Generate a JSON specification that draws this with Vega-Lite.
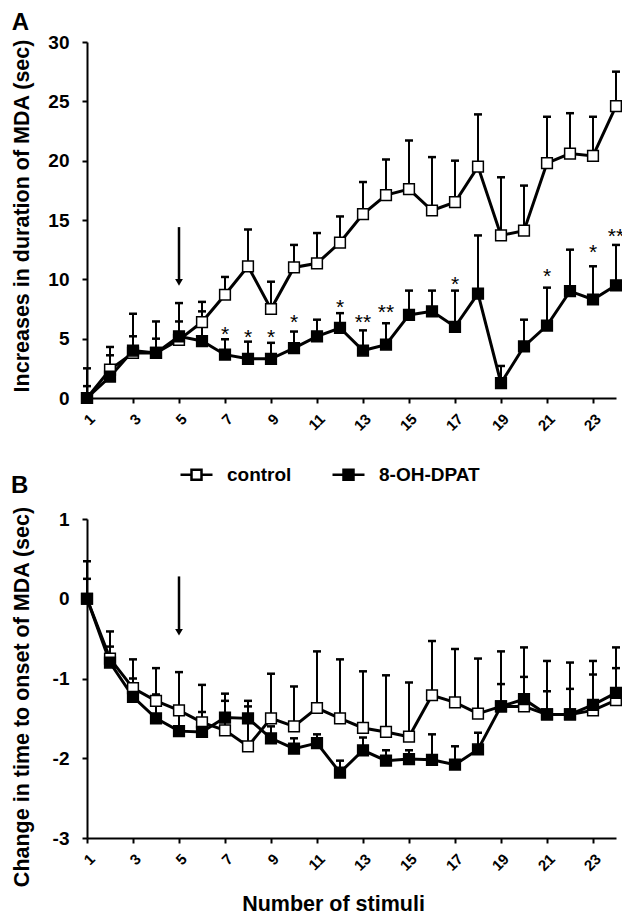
{
  "$schema": "https://vega.github.io/schema/vega-lite/v6.json",
  "padding": {"left": 11, "top": 11, "right": 0, "bottom": 0},
  "spacing": 39,
  "config": {
    "font": "Liberation Sans",
    "view": {"stroke": null},
    "axis": {
      "grid": false,
      "domainColor": "black",
      "domainWidth": 2,
      "tickColor": "black",
      "tickWidth": 2,
      "tickSize": 5,
      "labelFont": "Liberation Sans",
      "labelFontWeight": "bold",
      "labelColor": "black",
      "titleFont": "Liberation Sans",
      "titleFontWeight": "bold",
      "titleColor": "black",
      "labelOverlap": false,
      "labelFlush": false
    },
    "title": {"font": "Liberation Sans", "fontWeight": "bold", "fontSize": 24, "color": "black", "anchor": "start", "frame": "bounds"}
  },
  "datasets": {
    "dur": [
      {"stim": 1, "group": "control", "mean": 0, "upper": 2.5},
      {"stim": 2, "group": "control", "mean": 2.4, "upper": 4.3},
      {"stim": 3, "group": "control", "mean": 3.8, "upper": 7.1},
      {"stim": 4, "group": "control", "mean": 3.8, "upper": 6.45},
      {"stim": 5, "group": "control", "mean": 4.9, "upper": 8.0},
      {"stim": 6, "group": "control", "mean": 6.4, "upper": 8.1},
      {"stim": 7, "group": "control", "mean": 8.7, "upper": 10.2},
      {"stim": 8, "group": "control", "mean": 11.1, "upper": 14.2},
      {"stim": 9, "group": "control", "mean": 7.5, "upper": 9.8},
      {"stim": 10, "group": "control", "mean": 11.0, "upper": 12.9},
      {"stim": 11, "group": "control", "mean": 11.35, "upper": 13.9},
      {"stim": 12, "group": "control", "mean": 13.1, "upper": 15.3},
      {"stim": 13, "group": "control", "mean": 15.5, "upper": 18.2},
      {"stim": 14, "group": "control", "mean": 17.1, "upper": 20.1},
      {"stim": 15, "group": "control", "mean": 17.6, "upper": 21.7},
      {"stim": 16, "group": "control", "mean": 15.8, "upper": 20.3},
      {"stim": 17, "group": "control", "mean": 16.5, "upper": 20.0},
      {"stim": 18, "group": "control", "mean": 19.5, "upper": 23.9},
      {"stim": 19, "group": "control", "mean": 13.7, "upper": 18.6},
      {"stim": 20, "group": "control", "mean": 14.1, "upper": 17.9},
      {"stim": 21, "group": "control", "mean": 19.8, "upper": 23.7},
      {"stim": 22, "group": "control", "mean": 20.6, "upper": 24.0},
      {"stim": 23, "group": "control", "mean": 20.4, "upper": 23.7},
      {"stim": 24, "group": "control", "mean": 24.6, "upper": 27.5},
      {"stim": 1, "group": "8-OH-DPAT", "mean": 0, "upper": 1.0},
      {"stim": 2, "group": "8-OH-DPAT", "mean": 1.8, "upper": 3.6},
      {"stim": 3, "group": "8-OH-DPAT", "mean": 4.0, "upper": 5.2},
      {"stim": 4, "group": "8-OH-DPAT", "mean": 3.8, "upper": 5.0},
      {"stim": 5, "group": "8-OH-DPAT", "mean": 5.2, "upper": 6.45},
      {"stim": 6, "group": "8-OH-DPAT", "mean": 4.8, "upper": 7.3},
      {"stim": 7, "group": "8-OH-DPAT", "mean": 3.65, "upper": 4.95},
      {"stim": 8, "group": "8-OH-DPAT", "mean": 3.3, "upper": 4.75},
      {"stim": 9, "group": "8-OH-DPAT", "mean": 3.3, "upper": 4.65},
      {"stim": 10, "group": "8-OH-DPAT", "mean": 4.2, "upper": 5.6},
      {"stim": 11, "group": "8-OH-DPAT", "mean": 5.2, "upper": 6.6},
      {"stim": 12, "group": "8-OH-DPAT", "mean": 5.9, "upper": 7.15},
      {"stim": 13, "group": "8-OH-DPAT", "mean": 4.0, "upper": 5.7},
      {"stim": 14, "group": "8-OH-DPAT", "mean": 4.5, "upper": 6.3},
      {"stim": 15, "group": "8-OH-DPAT", "mean": 7.0, "upper": 9.05},
      {"stim": 16, "group": "8-OH-DPAT", "mean": 7.3, "upper": 9.05},
      {"stim": 17, "group": "8-OH-DPAT", "mean": 6.0, "upper": 9.05},
      {"stim": 18, "group": "8-OH-DPAT", "mean": 8.8, "upper": 13.7},
      {"stim": 19, "group": "8-OH-DPAT", "mean": 1.25, "upper": 2.7},
      {"stim": 20, "group": "8-OH-DPAT", "mean": 4.35, "upper": 6.6},
      {"stim": 21, "group": "8-OH-DPAT", "mean": 6.1, "upper": 9.3},
      {"stim": 22, "group": "8-OH-DPAT", "mean": 9.0, "upper": 12.5},
      {"stim": 23, "group": "8-OH-DPAT", "mean": 8.3, "upper": 11.1},
      {"stim": 24, "group": "8-OH-DPAT", "mean": 9.5, "upper": 12.9}
    ],
    "onset": [
      {"stim": 1, "group": "control", "mean": 0, "upper": 0.47},
      {"stim": 2, "group": "control", "mean": -0.75, "upper": -0.41},
      {"stim": 3, "group": "control", "mean": -1.12, "upper": -0.76},
      {"stim": 4, "group": "control", "mean": -1.28, "upper": -0.87},
      {"stim": 5, "group": "control", "mean": -1.4, "upper": -0.92},
      {"stim": 6, "group": "control", "mean": -1.55, "upper": -1.08},
      {"stim": 7, "group": "control", "mean": -1.65, "upper": -1.19},
      {"stim": 8, "group": "control", "mean": -1.85, "upper": -1.28},
      {"stim": 9, "group": "control", "mean": -1.5, "upper": -0.94},
      {"stim": 10, "group": "control", "mean": -1.6, "upper": -1.1},
      {"stim": 11, "group": "control", "mean": -1.37, "upper": -0.66},
      {"stim": 12, "group": "control", "mean": -1.5, "upper": -0.76},
      {"stim": 13, "group": "control", "mean": -1.62, "upper": -0.91},
      {"stim": 14, "group": "control", "mean": -1.67, "upper": -0.96},
      {"stim": 15, "group": "control", "mean": -1.73, "upper": -1.05},
      {"stim": 16, "group": "control", "mean": -1.21, "upper": -0.53},
      {"stim": 17, "group": "control", "mean": -1.3, "upper": -0.63},
      {"stim": 18, "group": "control", "mean": -1.44, "upper": -0.75},
      {"stim": 19, "group": "control", "mean": -1.35, "upper": -0.66},
      {"stim": 20, "group": "control", "mean": -1.35, "upper": -0.61},
      {"stim": 21, "group": "control", "mean": -1.45, "upper": -0.78},
      {"stim": 22, "group": "control", "mean": -1.45, "upper": -0.8},
      {"stim": 23, "group": "control", "mean": -1.4, "upper": -0.78},
      {"stim": 24, "group": "control", "mean": -1.27, "upper": -0.61},
      {"stim": 1, "group": "8-OH-DPAT", "mean": 0, "upper": 0.25},
      {"stim": 2, "group": "8-OH-DPAT", "mean": -0.8, "upper": -0.6},
      {"stim": 3, "group": "8-OH-DPAT", "mean": -1.23, "upper": -1.0},
      {"stim": 4, "group": "8-OH-DPAT", "mean": -1.5, "upper": -1.2},
      {"stim": 5, "group": "8-OH-DPAT", "mean": -1.66, "upper": -1.4},
      {"stim": 6, "group": "8-OH-DPAT", "mean": -1.67, "upper": -1.42},
      {"stim": 7, "group": "8-OH-DPAT", "mean": -1.49, "upper": -1.28},
      {"stim": 8, "group": "8-OH-DPAT", "mean": -1.5, "upper": -1.35},
      {"stim": 9, "group": "8-OH-DPAT", "mean": -1.75, "upper": -1.6},
      {"stim": 10, "group": "8-OH-DPAT", "mean": -1.88, "upper": -1.75},
      {"stim": 11, "group": "8-OH-DPAT", "mean": -1.81, "upper": -1.7},
      {"stim": 12, "group": "8-OH-DPAT", "mean": -2.18, "upper": -2.03},
      {"stim": 13, "group": "8-OH-DPAT", "mean": -1.9, "upper": -1.74},
      {"stim": 14, "group": "8-OH-DPAT", "mean": -2.03, "upper": -1.9},
      {"stim": 15, "group": "8-OH-DPAT", "mean": -2.01, "upper": -1.9},
      {"stim": 16, "group": "8-OH-DPAT", "mean": -2.02, "upper": -1.7},
      {"stim": 17, "group": "8-OH-DPAT", "mean": -2.08, "upper": -1.85},
      {"stim": 18, "group": "8-OH-DPAT", "mean": -1.89, "upper": -1.68},
      {"stim": 19, "group": "8-OH-DPAT", "mean": -1.35, "upper": -1.07},
      {"stim": 20, "group": "8-OH-DPAT", "mean": -1.26, "upper": -0.98},
      {"stim": 21, "group": "8-OH-DPAT", "mean": -1.45, "upper": -1.16},
      {"stim": 22, "group": "8-OH-DPAT", "mean": -1.45, "upper": -1.13},
      {"stim": 23, "group": "8-OH-DPAT", "mean": -1.33, "upper": -0.95},
      {"stim": 24, "group": "8-OH-DPAT", "mean": -1.18, "upper": -0.87}
    ],
    "stars": [
      {"stim": 7, "y": 5.75, "label": "*"},
      {"stim": 8, "y": 5.5, "label": "*"},
      {"stim": 9, "y": 5.5, "label": "*"},
      {"stim": 10, "y": 6.7, "label": "*"},
      {"stim": 12, "y": 8.0, "label": "*"},
      {"stim": 13, "y": 6.7, "label": "**"},
      {"stim": 14, "y": 7.6, "label": "**"},
      {"stim": 17, "y": 9.95, "label": "*"},
      {"stim": 21, "y": 10.65, "label": "*"},
      {"stim": 23, "y": 12.6, "label": "*"},
      {"stim": 24, "y": 14.0, "label": "**"}
    ],
    "arrowA": [{"stim": 5, "top": 14.4, "tip": 10.0, "head": 9.75}],
    "arrowB": [{"stim": 5, "top": 0.28, "tip": -0.38, "head": -0.42}]
  },
  "vconcat": [
    {
      "width": 529,
      "height": 356,
      "title": {"text": "A", "offset": -2},
      "layer": [
        {
          "data": {"name": "dur"},
          "mark": {"type": "rule", "color": "black", "strokeWidth": 2},
          "encoding": {
            "x": {"field": "stim", "type": "quantitative", "scale": {"domain": [1, 24], "nice": false, "zero": false},
              "axis": {"values": [1,2,3,4,5,6,7,8,9,10,11,12,13,14,15,16,17,18,19,20,21,22,23,24], "labelExpr": "datum.value % 2 == 1 ? datum.label : ''", "labelAngle": -45, "labelFontSize": 15, "labelPadding": 8, "title": null}},
            "y": {"field": "mean", "type": "quantitative", "scale": {"domain": [0, 30], "nice": false},
              "axis": {"values": [0,5,10,15,20,25,30], "labelFontSize": 19, "labelPadding": 13, "title": "Increases in duration of MDA (sec)", "titleFontSize": 21.5, "titlePadding": 14, "titleY": 173.5}},
            "y2": {"field": "upper"}
          }
        },
        {
          "data": {"name": "dur"},
          "mark": {"type": "tick", "orient": "horizontal", "color": "black", "size": 8, "thickness": 2.5, "opacity": 1},
          "encoding": {
            "x": {"field": "stim", "type": "quantitative"},
            "y": {"field": "upper", "type": "quantitative"}
          }
        },
        {
          "data": {"name": "dur"},
          "mark": {"type": "line", "color": "black", "strokeWidth": 3},
          "encoding": {
            "x": {"field": "stim", "type": "quantitative"},
            "y": {"field": "mean", "type": "quantitative"},
            "detail": {"field": "group"}
          }
        },
        {
          "data": {"name": "dur"},
          "mark": {"type": "point", "shape": "square", "filled": true, "size": 115, "stroke": "black", "strokeWidth": 1.5, "opacity": 1},
          "encoding": {
            "x": {"field": "stim", "type": "quantitative"},
            "y": {"field": "mean", "type": "quantitative"},
            "fill": {"field": "group", "type": "nominal", "scale": {"domain": ["control", "8-OH-DPAT"], "range": ["white", "black"]},
              "legend": {"orient": "none", "legendX": 100, "legendY": 423, "direction": "horizontal", "title": null,
                "symbolType": "M-3.2,0H-1M1,0H3.2M-1,-1H1V1H-1Z", "symbolSize": 100, "symbolStrokeColor": "black", "symbolStrokeWidth": 2.5,
                "labelFontSize": 19, "labelFontWeight": "bold", "labelColor": "black", "labelFont": "Liberation Sans", "labelOffset": 21, "columnPadding": 35}}
          }
        },
        {
          "data": {"name": "stars"},
          "mark": {"type": "text", "fontSize": 21, "color": "black", "baseline": "middle", "dy": 5, "font": "Liberation Sans"},
          "encoding": {
            "x": {"field": "stim", "type": "quantitative"},
            "y": {"field": "y", "type": "quantitative"},
            "text": {"field": "label"}
          }
        },
        {
          "data": {"name": "arrowA"},
          "mark": {"type": "rule", "color": "black", "strokeWidth": 2.5},
          "encoding": {
            "x": {"field": "stim", "type": "quantitative"},
            "y": {"field": "top", "type": "quantitative"},
            "y2": {"field": "tip"}
          }
        },
        {
          "data": {"name": "arrowA"},
          "mark": {"type": "point", "shape": "triangle-down", "filled": true, "color": "black", "size": 60, "opacity": 1},
          "encoding": {
            "x": {"field": "stim", "type": "quantitative"},
            "y": {"field": "head", "type": "quantitative"}
          }
        }
      ]
    },
    {
      "width": 529,
      "height": 319,
      "title": {"text": "B", "offset": 8},
      "layer": [
        {
          "data": {"name": "onset"},
          "mark": {"type": "rule", "color": "black", "strokeWidth": 2},
          "encoding": {
            "x": {"field": "stim", "type": "quantitative", "scale": {"domain": [1, 24], "nice": false, "zero": false},
              "axis": {"values": [1,2,3,4,5,6,7,8,9,10,11,12,13,14,15,16,17,18,19,20,21,22,23,24], "labelExpr": "datum.value % 2 == 1 ? datum.label : ''", "labelAngle": -45, "labelFontSize": 15, "labelPadding": 8, "title": "Number of stimuli", "titleFontSize": 21.5, "titleX": 246, "titlePadding": 20}},
            "y": {"field": "mean", "type": "quantitative", "scale": {"domain": [-3, 1], "nice": false},
              "axis": {"values": [-3,-2,-1,0,1], "labelExpr": "'' + datum.value", "labelFontSize": 19, "labelPadding": 13, "title": "Change in time to onset of MDA (sec)", "titleFontSize": 21.5, "titlePadding": 19, "titleY": 177.5}},
            "y2": {"field": "upper"}
          }
        },
        {
          "data": {"name": "onset"},
          "mark": {"type": "tick", "orient": "horizontal", "color": "black", "size": 8, "thickness": 2.5, "opacity": 1},
          "encoding": {
            "x": {"field": "stim", "type": "quantitative"},
            "y": {"field": "upper", "type": "quantitative"}
          }
        },
        {
          "data": {"name": "onset"},
          "mark": {"type": "line", "color": "black", "strokeWidth": 3},
          "encoding": {
            "x": {"field": "stim", "type": "quantitative"},
            "y": {"field": "mean", "type": "quantitative"},
            "detail": {"field": "group"}
          }
        },
        {
          "data": {"name": "onset"},
          "mark": {"type": "point", "shape": "square", "filled": true, "size": 115, "stroke": "black", "strokeWidth": 1.5, "opacity": 1},
          "encoding": {
            "x": {"field": "stim", "type": "quantitative"},
            "y": {"field": "mean", "type": "quantitative"},
            "fill": {"field": "group", "type": "nominal", "scale": {"domain": ["control", "8-OH-DPAT"], "range": ["white", "black"]},
              "legend": {"orient": "none", "legendX": 100, "legendY": 423, "direction": "horizontal", "title": null,
                "symbolType": "M-3.2,0H-1M1,0H3.2M-1,-1H1V1H-1Z", "symbolSize": 100, "symbolStrokeColor": "black", "symbolStrokeWidth": 2.5,
                "labelFontSize": 19, "labelFontWeight": "bold", "labelColor": "black", "labelFont": "Liberation Sans", "labelOffset": 21, "columnPadding": 35}}
          }
        },
        {
          "data": {"name": "arrowB"},
          "mark": {"type": "rule", "color": "black", "strokeWidth": 2.5},
          "encoding": {
            "x": {"field": "stim", "type": "quantitative"},
            "y": {"field": "top", "type": "quantitative"},
            "y2": {"field": "tip"}
          }
        },
        {
          "data": {"name": "arrowB"},
          "mark": {"type": "point", "shape": "triangle-down", "filled": true, "color": "black", "size": 60, "opacity": 1},
          "encoding": {
            "x": {"field": "stim", "type": "quantitative"},
            "y": {"field": "head", "type": "quantitative"}
          }
        }
      ]
    }
  ]
}
